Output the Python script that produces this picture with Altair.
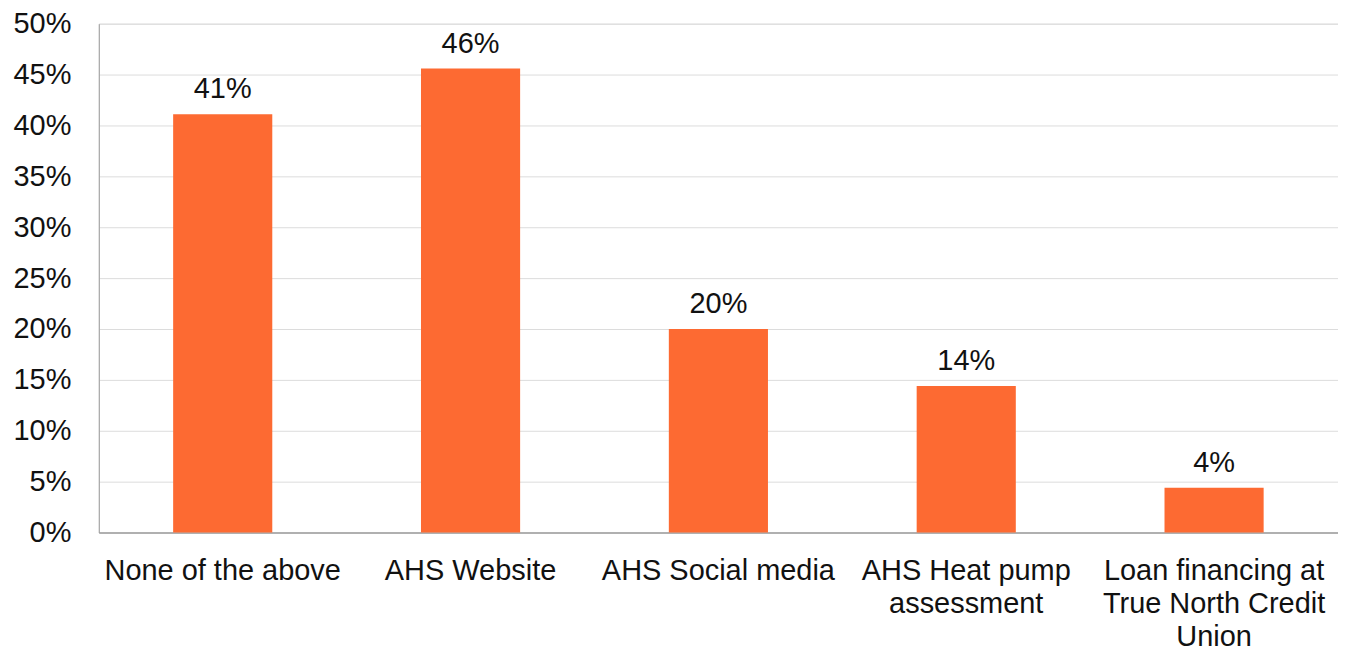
import altair as alt
import pandas as pd

categories = ["None of the above", "AHS Website", "AHS Social media",
              "AHS Heat pump assessment", "Loan financing at True North Credit Union"]
label_lines = [["None of the above"], ["AHS Website"], ["AHS Social media"],
               ["AHS Heat pump", "assessment"],
               ["Loan financing at", "True North Credit", "Union"]]
values = [0.411, 0.456, 0.200, 0.144, 0.044]

df = pd.DataFrame({"category": categories, "value": values})

parts = []
for c, lines in zip(categories, label_lines):
    arr = "[" + ",".join("'" + l + "'" for l in lines) + "]"
    parts.append(f"datum.label == '{c}' ? {arr}")
label_expr = " : ".join(parts) + " : datum.label"

FONT = "Liberation Sans"
FS = 29

x = alt.X("category:N", sort=categories, title=None,
          scale=alt.Scale(paddingInner=0.6, paddingOuter=0.3),
          axis=alt.Axis(labelAngle=0, labelExpr=label_expr, labelFont=FONT,
                        labelFontSize=FS, labelColor="#111111", labelPadding=24,
                        labelLineHeight=33, ticks=False, domainColor="#9e9e9e",
                        domainWidth=1.5, labelLimit=300))
y = alt.Y("value:Q", title=None,
          scale=alt.Scale(domain=[0, 0.5], nice=False),
          axis=alt.Axis(format=".0%", values=[i * 0.05 for i in range(11)],
                        labelFont=FONT, labelFontSize=FS, labelColor="#111111",
                        labelPadding=28, ticks=False, domainColor="#9e9e9e",
                        domainWidth=1, gridColor="#dcdcdc", gridWidth=1))

bars = alt.Chart(df).mark_bar(color="#FD6A32").encode(x=x, y=y)
text = alt.Chart(df).mark_text(baseline="bottom", dy=-10, font=FONT,
                               fontSize=FS, color="#111111").encode(
    x=alt.X("category:N", sort=categories),
    y="value:Q",
    text=alt.Text("value:Q", format=".0%"))

chart = (bars + text).properties(
    width=1242, height=510,
    autosize=alt.AutoSizeParams(type="none"),
    padding={"left": 91, "top": 15, "right": 0, "bottom": 120},
).configure_view(stroke=None).configure(background="white")

chart.save("out.html", embed_options={"renderer": "svg", "actions": False})
